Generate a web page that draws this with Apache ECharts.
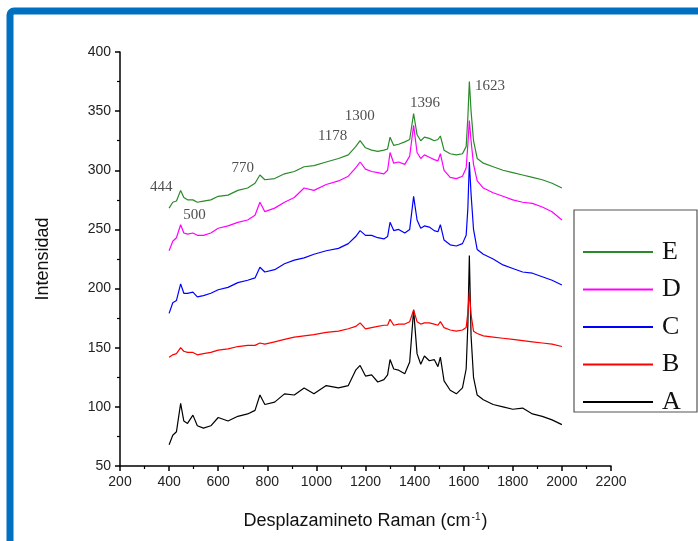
<!DOCTYPE html>
<html>
<head>
<meta charset="utf-8">
<script src="https://cdn.jsdelivr.net/npm/echarts@6/dist/echarts.min.js"></script>
<style>
  html, body { margin: 0; padding: 0; background: #fff; }
  #chart { width: 698px; height: 541px; }
</style>
</head>
<body>
<div id="chart"></div>
<script>
// Raman shift (cm-1), shared by all spectra
const shift = [400, 415, 430, 447, 460, 475, 497, 515, 540, 570, 600, 640, 680, 720, 750, 770, 790, 830, 870, 910,
  950, 990, 1040, 1090, 1130, 1160, 1178, 1200, 1225, 1250, 1275, 1290, 1300, 1315, 1335, 1360, 1380, 1396, 1410, 1425,
  1440, 1460, 1480, 1495, 1505, 1520, 1545, 1570, 1595, 1610, 1617, 1623, 1630, 1640, 1655, 1680, 1720, 1760, 1800, 1840,
  1880, 1920, 1960, 2000]

const specA = [68, 76, 79, 103, 88, 86, 93, 84, 82, 84, 91, 88, 92, 94, 97, 110, 102, 104, 111, 110,
  116, 111, 118, 116, 118, 131, 135, 126, 127, 121, 123, 127, 140, 132, 131, 128, 138, 182, 145, 136,
  143, 139, 140, 134, 142, 122, 114, 111, 116, 132, 170, 228, 160, 125, 110, 106, 102, 100, 98, 99,
  94, 92, 89, 85]

const specB = [142, 144, 145, 150, 147, 146, 146, 144, 145, 146, 148, 149, 151, 152, 152, 154, 153, 155, 157, 159,
  160, 161, 163, 164, 166, 168, 171, 166, 167, 168, 169, 169, 174, 169, 170, 170, 172, 182, 172, 170,
  171, 171, 170, 169, 172, 167, 165, 164, 165, 167, 180, 197, 178, 164, 162, 160, 159, 158, 157, 156,
  155, 154, 153, 151]

const specC = [179, 188, 190, 204, 196, 196, 197, 193, 194, 196, 199, 201, 205, 207, 209, 218, 214, 216, 221, 224,
  226, 229, 232, 234, 238, 244, 249, 245, 245, 243, 242, 244, 256, 249, 250, 247, 250, 278, 258, 251,
  253, 252, 249, 248, 254, 241, 237, 236, 238, 245, 268, 307, 280, 250, 233, 229, 225, 220, 217, 214,
  213, 210, 207, 203]

const specD = [232, 240, 243, 254, 247, 246, 247, 245, 245, 247, 251, 253, 256, 258, 262, 273, 265, 268, 273, 277,
  285, 283, 288, 291, 295, 302, 307, 301, 299, 298, 297, 300, 315, 306, 307, 305, 312, 338, 315, 310,
  313, 311, 309, 308, 314, 300, 294, 293, 295, 302, 322, 342, 325, 305, 291, 285, 281, 278, 275, 273,
  272, 269, 265, 258]

const specE = [268, 273, 274, 283, 277, 275, 275, 273, 274, 275, 278, 279, 283, 285, 289, 296, 292, 293, 297, 299,
  303, 304, 307, 310, 313, 320, 325, 319, 317, 316, 317, 318, 328, 321, 322, 324, 326, 348, 330, 325,
  328, 327, 325, 326, 329, 317, 314, 313, 314, 320, 345, 375, 350, 325, 310, 306, 303, 300, 298, 296,
  294, 292, 289, 285]

const seriesNames = ['A', 'B', 'C', 'D', 'E']
const seriesColors = ['#000000', '#ff0000', '#0000ff', '#ff00ff', '#2a8a2a']

// peak labels, placed in data units
const peakText = ['444', '500', '770', '1178', '1300', '1396', '1623']
const peakX = [368, 503, 700, 1066, 1177, 1442, 1707]
const peakY = [286, 262, 302, 329, 346, 357, 371]

const myChart = echarts.init(document.getElementById('chart'))

const spectra = [specA, specB, specC, specD, specE]
let seriesList = spectra.map(function (vals, i) {
  return {
    name: seriesNames[i],
    type: 'line',
    data: shift.map(function (x, j) { return [x, vals[j]] }),
    symbol: 'none',
    lineStyle: { color: seriesColors[i], width: 1.2 },
    itemStyle: { color: seriesColors[i] },
    silent: true,
    animation: false
  }
})

seriesList.push({
  type: 'scatter',
  symbolSize: 0,
  silent: true,
  animation: false,
  data: peakText.map(function (t, i) { return { value: [peakX[i], peakY[i]], name: t } }),
  label: {
    show: true,
    position: 'inside',
    formatter: '{b}',
    fontFamily: 'Liberation Serif',
    fontSize: 15,
    color: '#222'
  }
})

const plainNum = function (v) { return String(v) }

const option = {
  backgroundColor: '#fff',
  animation: false,
  grid: { left: 120, right: 87, top: 52, bottom: 75 },
  xAxis: {
    type: 'value',
    min: 200,
    max: 2200,
    interval: 200,
    name: 'Desplazamineto Raman (cm{sup|-1})',
    nameLocation: 'middle',
    nameGap: 46,
    nameTextStyle: {
      fontFamily: 'Liberation Sans',
      fontSize: 18,
      color: '#111',
      rich: {
        sup: { fontFamily: 'Liberation Sans', fontSize: 10, color: '#111', verticalAlign: 'top', padding: [0, 1, 9, 1] }
      }
    },
    axisLine: { lineStyle: { color: '#000', width: 1.5 } },
    axisTick: { length: 5, lineStyle: { color: '#000', width: 1.5 } },
    minorTick: { show: true, splitNumber: 2, length: 3, lineStyle: { color: '#000', width: 1.2 } },
    axisLabel: { fontFamily: 'Liberation Sans', fontSize: 14, color: '#222', margin: 9, formatter: plainNum },
    splitLine: { show: false }
  },
  yAxis: {
    type: 'value',
    min: 50,
    max: 400,
    interval: 50,
    name: 'Intensidad',
    nameLocation: 'middle',
    nameGap: 68,
    nameTextStyle: { fontFamily: 'Liberation Sans', fontSize: 18, color: '#111' },
    axisLine: { show: true, lineStyle: { color: '#000', width: 1.5 } },
    axisTick: { show: true, length: 5, lineStyle: { color: '#000', width: 1.5 } },
    minorTick: { show: true, splitNumber: 2, length: 3, lineStyle: { color: '#000', width: 1.2 } },
    axisLabel: { fontFamily: 'Liberation Sans', fontSize: 14, color: '#222', margin: 9, formatter: plainNum },
    splitLine: { show: false }
  },
  legend: {
    data: ['E', 'D', 'C', 'B', 'A'],
    orient: 'vertical',
    left: 578,
    top: 234,
    itemWidth: 70,
    itemHeight: 14,
    itemGap: 11.5,
    icon: 'path://M0,6 L70,6 L70,8 L0,8 Z',
    selectedMode: false,
    textStyle: { fontFamily: 'Liberation Serif', fontSize: 26, lineHeight: 26, color: '#111', padding: [0, 0, 0, 4] }
  },
  graphic: [
    {
      type: 'rect',
      silent: true,
      shape: { x: 574, y: 210, width: 123, height: 202 },
      style: { fill: 'none', stroke: '#555', lineWidth: 1.2 }
    },
    {
      type: 'rect',
      silent: true,
      shape: { x: 10, y: 11, width: 800, height: 620, r: 4 },
      style: { fill: 'none', stroke: '#0070c0', lineWidth: 7 }
    }
  ],
  series: seriesList
}

option && myChart.setOption(option)
</script>
</body>
</html>
